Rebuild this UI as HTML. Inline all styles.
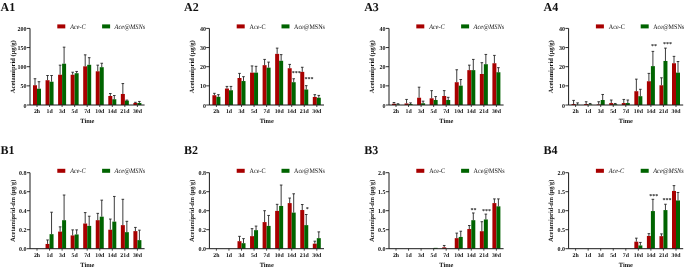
<!DOCTYPE html>
<html><head><meta charset="utf-8"><title>Chart</title>
<style>html,body{margin:0;padding:0;background:#fff;}body{width:685px;height:268px;overflow:hidden;}
svg{display:block;font-family:"Liberation Serif",serif;text-rendering:geometricPrecision;}</style></head>
<body>
<svg width="685" height="268" viewBox="0 0 685 268" font-family="'Liberation Serif', serif" fill="#111"><g><rect x="33" y="85.24" width="4" height="19.76" fill="#a80000"/><path d="M35 85.24V78.73M33.7 78.73h2.6" stroke="#262626" stroke-width="0.9" fill="none"/><rect x="37" y="88.72" width="4" height="16.28" fill="#006400"/><path d="M39 88.72V81.71M37.7 81.71h2.6" stroke="#262626" stroke-width="0.9" fill="none"/><rect x="45.55" y="80.22" width="4" height="24.78" fill="#a80000"/><path d="M47.55 80.22V75.51M46.25 75.51h2.6" stroke="#262626" stroke-width="0.9" fill="none"/><rect x="49.55" y="81.71" width="4" height="23.29" fill="#006400"/><path d="M51.55 81.71V75.51M50.25 75.51h2.6" stroke="#262626" stroke-width="0.9" fill="none"/><rect x="58.1" y="74.74" width="4" height="30.26" fill="#a80000"/><path d="M60.1 74.74V65.17M58.8 65.17h2.6" stroke="#262626" stroke-width="0.9" fill="none"/><rect x="62.1" y="63.71" width="4" height="41.29" fill="#006400"/><path d="M64.1 63.71V47.17M62.8 47.17h2.6" stroke="#262626" stroke-width="0.9" fill="none"/><rect x="70.65" y="74.74" width="4" height="30.26" fill="#a80000"/><path d="M72.65 74.74V72.22M71.35 72.22h2.6" stroke="#262626" stroke-width="0.9" fill="none"/><rect x="74.65" y="73.21" width="4" height="31.79" fill="#006400"/><path d="M76.65 73.21V71.45M75.35 71.45h2.6" stroke="#262626" stroke-width="0.9" fill="none"/><rect x="83.2" y="66.32" width="4" height="38.68" fill="#a80000"/><path d="M85.2 66.32V54.83M83.9 54.83h2.6" stroke="#262626" stroke-width="0.9" fill="none"/><rect x="87.2" y="64.78" width="4" height="40.21" fill="#006400"/><path d="M89.2 64.78V57.7M87.9 57.7h2.6" stroke="#262626" stroke-width="0.9" fill="none"/><rect x="95.75" y="71.3" width="4" height="33.7" fill="#a80000"/><path d="M97.75 71.3V65.17M96.45 65.17h2.6" stroke="#262626" stroke-width="0.9" fill="none"/><rect x="99.75" y="67.2" width="4" height="37.8" fill="#006400"/><path d="M101.75 67.2V63.25M100.45 63.25h2.6" stroke="#262626" stroke-width="0.9" fill="none"/><rect x="108.3" y="96" width="4" height="9" fill="#a80000"/><path d="M110.3 96V93.51M109 93.51h2.6" stroke="#262626" stroke-width="0.9" fill="none"/><rect x="112.3" y="99.25" width="4" height="5.74" fill="#006400"/><path d="M114.3 99.25V95.5M113 95.5h2.6" stroke="#262626" stroke-width="0.9" fill="none"/><rect x="120.85" y="93.97" width="4" height="11.03" fill="#a80000"/><path d="M122.85 93.97V83.55M121.55 83.55h2.6" stroke="#262626" stroke-width="0.9" fill="none"/><rect x="124.85" y="100.63" width="4" height="4.37" fill="#006400"/><path d="M126.85 100.63V100.1M125.55 100.1h2.6" stroke="#262626" stroke-width="0.9" fill="none"/><rect x="133.4" y="102.93" width="4" height="2.07" fill="#a80000"/><path d="M135.4 102.93V102.32M134.1 102.32h2.6" stroke="#262626" stroke-width="0.9" fill="none"/><rect x="137.4" y="102.93" width="4" height="2.07" fill="#006400"/><path d="M139.4 102.93V101.44M138.1 101.44h2.6" stroke="#262626" stroke-width="0.9" fill="none"/><path d="M30 28.4V105H144.6" stroke="#1a1a1a" stroke-width="1" fill="none"/><path d="M26.8 105H30" stroke="#1a1a1a" stroke-width="0.9"/><path d="M26.8 85.85H30" stroke="#1a1a1a" stroke-width="0.9"/><path d="M26.8 66.7H30" stroke="#1a1a1a" stroke-width="0.9"/><path d="M26.8 47.55H30" stroke="#1a1a1a" stroke-width="0.9"/><path d="M26.8 28.4H30" stroke="#1a1a1a" stroke-width="0.9"/><path d="M37 105V107" stroke="#1a1a1a" stroke-width="0.8"/><path d="M49.55 105V107" stroke="#1a1a1a" stroke-width="0.8"/><path d="M62.1 105V107" stroke="#1a1a1a" stroke-width="0.8"/><path d="M74.65 105V107" stroke="#1a1a1a" stroke-width="0.8"/><path d="M87.2 105V107" stroke="#1a1a1a" stroke-width="0.8"/><path d="M99.75 105V107" stroke="#1a1a1a" stroke-width="0.8"/><path d="M112.3 105V107" stroke="#1a1a1a" stroke-width="0.8"/><path d="M124.85 105V107" stroke="#1a1a1a" stroke-width="0.8"/><path d="M137.4 105V107" stroke="#1a1a1a" stroke-width="0.8"/><rect x="57.3" y="24.4" width="8" height="4" fill="#a80000"/><rect x="102.1" y="24.4" width="8" height="4" fill="#006400"/></g>
<g><rect x="212.4" y="95.23" width="4" height="9.77" fill="#a80000"/><path d="M214.4 95.23V93.32M213.1 93.32h2.6" stroke="#262626" stroke-width="0.9" fill="none"/><rect x="216.4" y="96.77" width="4" height="8.23" fill="#006400"/><path d="M218.4 96.77V94.66M217.1 94.66h2.6" stroke="#262626" stroke-width="0.9" fill="none"/><rect x="224.95" y="88.53" width="4" height="16.47" fill="#a80000"/><path d="M226.95 88.53V86.42M225.65 86.42h2.6" stroke="#262626" stroke-width="0.9" fill="none"/><rect x="228.95" y="90.25" width="4" height="14.75" fill="#006400"/><path d="M230.95 90.25V86.42M229.65 86.42h2.6" stroke="#262626" stroke-width="0.9" fill="none"/><rect x="237.5" y="78" width="4" height="27" fill="#a80000"/><path d="M239.5 78V73.4M238.2 73.4h2.6" stroke="#262626" stroke-width="0.9" fill="none"/><rect x="241.5" y="81.06" width="4" height="23.94" fill="#006400"/><path d="M243.5 81.06V76.66M242.2 76.66h2.6" stroke="#262626" stroke-width="0.9" fill="none"/><rect x="250.05" y="72.64" width="4" height="32.36" fill="#a80000"/><path d="M252.05 72.64V65.93M250.75 65.93h2.6" stroke="#262626" stroke-width="0.9" fill="none"/><rect x="254.05" y="72.64" width="4" height="32.36" fill="#006400"/><path d="M256.05 72.64V66.32M254.75 66.32h2.6" stroke="#262626" stroke-width="0.9" fill="none"/><rect x="262.6" y="65.17" width="4" height="39.83" fill="#a80000"/><path d="M264.6 65.17V59.42M263.3 59.42h2.6" stroke="#262626" stroke-width="0.9" fill="none"/><rect x="266.6" y="67.66" width="4" height="37.34" fill="#006400"/><path d="M268.6 67.66V62.1M267.3 62.1h2.6" stroke="#262626" stroke-width="0.9" fill="none"/><rect x="275.15" y="53.87" width="4" height="51.13" fill="#a80000"/><path d="M277.15 53.87V48.12M275.85 48.12h2.6" stroke="#262626" stroke-width="0.9" fill="none"/><rect x="279.15" y="60.76" width="4" height="44.24" fill="#006400"/><path d="M281.15 60.76V54.64M279.85 54.64h2.6" stroke="#262626" stroke-width="0.9" fill="none"/><rect x="287.7" y="68.23" width="4" height="36.77" fill="#a80000"/><path d="M289.7 68.23V64.4M288.4 64.4h2.6" stroke="#262626" stroke-width="0.9" fill="none"/><rect x="291.7" y="82.21" width="4" height="22.79" fill="#006400"/><path d="M293.7 82.21V78.76M292.4 78.76h2.6" stroke="#262626" stroke-width="0.9" fill="none"/><rect x="300.25" y="71.87" width="4" height="33.13" fill="#a80000"/><path d="M302.25 71.87V67.27M300.95 67.27h2.6" stroke="#262626" stroke-width="0.9" fill="none"/><rect x="304.25" y="89.49" width="4" height="15.51" fill="#006400"/><path d="M306.25 89.49V85.66M304.95 85.66h2.6" stroke="#262626" stroke-width="0.9" fill="none"/><rect x="312.8" y="96.96" width="4" height="8.04" fill="#a80000"/><path d="M314.8 96.96V94.66M313.5 94.66h2.6" stroke="#262626" stroke-width="0.9" fill="none"/><rect x="316.8" y="97.72" width="4" height="7.28" fill="#006400"/><path d="M318.8 97.72V95.42M317.5 95.42h2.6" stroke="#262626" stroke-width="0.9" fill="none"/><path d="M209.4 28.4V105H324" stroke="#1a1a1a" stroke-width="1" fill="none"/><path d="M206.2 105H209.4" stroke="#1a1a1a" stroke-width="0.9"/><path d="M206.2 85.85H209.4" stroke="#1a1a1a" stroke-width="0.9"/><path d="M206.2 66.7H209.4" stroke="#1a1a1a" stroke-width="0.9"/><path d="M206.2 47.55H209.4" stroke="#1a1a1a" stroke-width="0.9"/><path d="M206.2 28.4H209.4" stroke="#1a1a1a" stroke-width="0.9"/><path d="M216.4 105V107" stroke="#1a1a1a" stroke-width="0.8"/><path d="M228.95 105V107" stroke="#1a1a1a" stroke-width="0.8"/><path d="M241.5 105V107" stroke="#1a1a1a" stroke-width="0.8"/><path d="M254.05 105V107" stroke="#1a1a1a" stroke-width="0.8"/><path d="M266.6 105V107" stroke="#1a1a1a" stroke-width="0.8"/><path d="M279.15 105V107" stroke="#1a1a1a" stroke-width="0.8"/><path d="M291.7 105V107" stroke="#1a1a1a" stroke-width="0.8"/><path d="M304.25 105V107" stroke="#1a1a1a" stroke-width="0.8"/><path d="M316.8 105V107" stroke="#1a1a1a" stroke-width="0.8"/><rect x="236.7" y="24.4" width="8" height="4" fill="#a80000"/><rect x="281.5" y="24.4" width="8" height="4" fill="#006400"/></g>
<g><rect x="392" y="103.76" width="4" height="1.24" fill="#a80000"/><path d="M394 103.76V102.51M392.7 102.51h2.6" stroke="#262626" stroke-width="0.9" fill="none"/><rect x="396" y="104.5" width="4" height="0.5" fill="#006400"/><path d="M398 104.5V103.76M396.7 103.76h2.6" stroke="#262626" stroke-width="0.9" fill="none"/><rect x="404.55" y="103.47" width="4" height="1.53" fill="#a80000"/><path d="M406.55 103.47V99.45M405.25 99.45h2.6" stroke="#262626" stroke-width="0.9" fill="none"/><rect x="408.55" y="104.04" width="4" height="0.96" fill="#006400"/><path d="M410.55 104.04V102.89M409.25 102.89h2.6" stroke="#262626" stroke-width="0.9" fill="none"/><rect x="417.1" y="97.72" width="4" height="7.28" fill="#a80000"/><path d="M419.1 97.72V87.19M417.8 87.19h2.6" stroke="#262626" stroke-width="0.9" fill="none"/><rect x="421.1" y="103.28" width="4" height="1.72" fill="#006400"/><path d="M423.1 103.28V101.17M421.8 101.17h2.6" stroke="#262626" stroke-width="0.9" fill="none"/><rect x="429.65" y="98.3" width="4" height="6.7" fill="#a80000"/><path d="M431.65 98.3V90.64M430.35 90.64h2.6" stroke="#262626" stroke-width="0.9" fill="none"/><rect x="433.65" y="100.02" width="4" height="4.98" fill="#006400"/><path d="M435.65 100.02V96.57M434.35 96.57h2.6" stroke="#262626" stroke-width="0.9" fill="none"/><rect x="442.2" y="96" width="4" height="9" fill="#a80000"/><path d="M444.2 96V90.64M442.9 90.64h2.6" stroke="#262626" stroke-width="0.9" fill="none"/><rect x="446.2" y="100.02" width="4" height="4.98" fill="#006400"/><path d="M448.2 100.02V97.34M446.9 97.34h2.6" stroke="#262626" stroke-width="0.9" fill="none"/><rect x="454.75" y="82.21" width="4" height="22.79" fill="#a80000"/><path d="M456.75 82.21V69.76M455.45 69.76h2.6" stroke="#262626" stroke-width="0.9" fill="none"/><rect x="458.75" y="85.66" width="4" height="19.34" fill="#006400"/><path d="M460.75 85.66V79.53M459.45 79.53h2.6" stroke="#262626" stroke-width="0.9" fill="none"/><rect x="467.3" y="70.15" width="4" height="34.85" fill="#a80000"/><path d="M469.3 70.15V65.17M468 65.17h2.6" stroke="#262626" stroke-width="0.9" fill="none"/><rect x="471.3" y="70.15" width="4" height="34.85" fill="#006400"/><path d="M473.3 70.15V59.42M472 59.42h2.6" stroke="#262626" stroke-width="0.9" fill="none"/><rect x="479.85" y="73.98" width="4" height="31.02" fill="#a80000"/><path d="M481.85 73.98V62.68M480.55 62.68h2.6" stroke="#262626" stroke-width="0.9" fill="none"/><rect x="483.85" y="64.21" width="4" height="40.79" fill="#006400"/><path d="M485.85 64.21V54.44M484.55 54.44h2.6" stroke="#262626" stroke-width="0.9" fill="none"/><rect x="492.4" y="63.25" width="4" height="41.75" fill="#a80000"/><path d="M494.4 63.25V55.4M493.1 55.4h2.6" stroke="#262626" stroke-width="0.9" fill="none"/><rect x="496.4" y="72.25" width="4" height="32.75" fill="#006400"/><path d="M498.4 72.25V67.66M497.1 67.66h2.6" stroke="#262626" stroke-width="0.9" fill="none"/><path d="M389 28.4V105H503.6" stroke="#1a1a1a" stroke-width="1" fill="none"/><path d="M385.8 105H389" stroke="#1a1a1a" stroke-width="0.9"/><path d="M385.8 85.85H389" stroke="#1a1a1a" stroke-width="0.9"/><path d="M385.8 66.7H389" stroke="#1a1a1a" stroke-width="0.9"/><path d="M385.8 47.55H389" stroke="#1a1a1a" stroke-width="0.9"/><path d="M385.8 28.4H389" stroke="#1a1a1a" stroke-width="0.9"/><path d="M396 105V107" stroke="#1a1a1a" stroke-width="0.8"/><path d="M408.55 105V107" stroke="#1a1a1a" stroke-width="0.8"/><path d="M421.1 105V107" stroke="#1a1a1a" stroke-width="0.8"/><path d="M433.65 105V107" stroke="#1a1a1a" stroke-width="0.8"/><path d="M446.2 105V107" stroke="#1a1a1a" stroke-width="0.8"/><path d="M458.75 105V107" stroke="#1a1a1a" stroke-width="0.8"/><path d="M471.3 105V107" stroke="#1a1a1a" stroke-width="0.8"/><path d="M483.85 105V107" stroke="#1a1a1a" stroke-width="0.8"/><path d="M496.4 105V107" stroke="#1a1a1a" stroke-width="0.8"/><rect x="416.3" y="24.4" width="8" height="4" fill="#a80000"/><rect x="461.1" y="24.4" width="8" height="4" fill="#006400"/></g>
<g><rect x="571.6" y="104.04" width="4" height="0.96" fill="#a80000"/><path d="M573.6 104.04V100.4M572.3 100.4h2.6" stroke="#262626" stroke-width="0.9" fill="none"/><rect x="575.6" y="104.81" width="4" height="0.19" fill="#006400"/><path d="M577.6 104.81V102.89M576.3 102.89h2.6" stroke="#262626" stroke-width="0.9" fill="none"/><rect x="584.15" y="104.04" width="4" height="0.96" fill="#a80000"/><path d="M586.15 104.04V101.74M584.85 101.74h2.6" stroke="#262626" stroke-width="0.9" fill="none"/><rect x="588.15" y="104.43" width="4" height="0.57" fill="#006400"/><path d="M590.15 104.43V103.47M588.85 103.47h2.6" stroke="#262626" stroke-width="0.9" fill="none"/><rect x="596.7" y="104.43" width="4" height="0.57" fill="#a80000"/><path d="M598.7 104.43V101.74M597.4 101.74h2.6" stroke="#262626" stroke-width="0.9" fill="none"/><rect x="600.7" y="100.02" width="4" height="4.98" fill="#006400"/><path d="M602.7 100.02V94.47M601.4 94.47h2.6" stroke="#262626" stroke-width="0.9" fill="none"/><rect x="609.25" y="103.08" width="4" height="1.91" fill="#a80000"/><path d="M611.25 103.08V100.02M609.95 100.02h2.6" stroke="#262626" stroke-width="0.9" fill="none"/><rect x="613.25" y="104.23" width="4" height="0.77" fill="#006400"/><path d="M615.25 104.23V103.47M613.95 103.47h2.6" stroke="#262626" stroke-width="0.9" fill="none"/><rect x="621.8" y="103.08" width="4" height="1.91" fill="#a80000"/><path d="M623.8 103.08V99.45M622.5 99.45h2.6" stroke="#262626" stroke-width="0.9" fill="none"/><rect x="625.8" y="103.08" width="4" height="1.91" fill="#006400"/><path d="M627.8 103.08V100.02M626.5 100.02h2.6" stroke="#262626" stroke-width="0.9" fill="none"/><rect x="634.35" y="91.21" width="4" height="13.79" fill="#a80000"/><path d="M636.35 91.21V79.15M635.05 79.15h2.6" stroke="#262626" stroke-width="0.9" fill="none"/><rect x="638.35" y="96.19" width="4" height="8.81" fill="#006400"/><path d="M640.35 96.19V89.3M639.05 89.3h2.6" stroke="#262626" stroke-width="0.9" fill="none"/><rect x="646.9" y="81.25" width="4" height="23.75" fill="#a80000"/><path d="M648.9 81.25V73.4M647.6 73.4h2.6" stroke="#262626" stroke-width="0.9" fill="none"/><rect x="650.9" y="66.13" width="4" height="38.87" fill="#006400"/><path d="M652.9 66.13V51.38M651.6 51.38h2.6" stroke="#262626" stroke-width="0.9" fill="none"/><rect x="659.45" y="85.28" width="4" height="19.72" fill="#a80000"/><path d="M661.45 85.28V77.81M660.15 77.81h2.6" stroke="#262626" stroke-width="0.9" fill="none"/><rect x="663.45" y="60.96" width="4" height="44.04" fill="#006400"/><path d="M665.45 60.96V48.12M664.15 48.12h2.6" stroke="#262626" stroke-width="0.9" fill="none"/><rect x="672" y="63.25" width="4" height="41.75" fill="#a80000"/><path d="M674 63.25V56.36M672.7 56.36h2.6" stroke="#262626" stroke-width="0.9" fill="none"/><rect x="676" y="72.64" width="4" height="32.36" fill="#006400"/><path d="M678 72.64V61.53M676.7 61.53h2.6" stroke="#262626" stroke-width="0.9" fill="none"/><path d="M568.6 28.4V105H683.2" stroke="#1a1a1a" stroke-width="1" fill="none"/><path d="M565.4 105H568.6" stroke="#1a1a1a" stroke-width="0.9"/><path d="M565.4 85.85H568.6" stroke="#1a1a1a" stroke-width="0.9"/><path d="M565.4 66.7H568.6" stroke="#1a1a1a" stroke-width="0.9"/><path d="M565.4 47.55H568.6" stroke="#1a1a1a" stroke-width="0.9"/><path d="M565.4 28.4H568.6" stroke="#1a1a1a" stroke-width="0.9"/><path d="M575.6 105V107" stroke="#1a1a1a" stroke-width="0.8"/><path d="M588.15 105V107" stroke="#1a1a1a" stroke-width="0.8"/><path d="M600.7 105V107" stroke="#1a1a1a" stroke-width="0.8"/><path d="M613.25 105V107" stroke="#1a1a1a" stroke-width="0.8"/><path d="M625.8 105V107" stroke="#1a1a1a" stroke-width="0.8"/><path d="M638.35 105V107" stroke="#1a1a1a" stroke-width="0.8"/><path d="M650.9 105V107" stroke="#1a1a1a" stroke-width="0.8"/><path d="M663.45 105V107" stroke="#1a1a1a" stroke-width="0.8"/><path d="M676 105V107" stroke="#1a1a1a" stroke-width="0.8"/><rect x="595.9" y="24.4" width="8" height="4" fill="#a80000"/><rect x="640.7" y="24.4" width="8" height="4" fill="#006400"/></g>
<g><rect x="45.55" y="243.95" width="4" height="4.75" fill="#a80000"/><path d="M47.55 243.95V239.96M46.25 239.96h2.6" stroke="#262626" stroke-width="0.9" fill="none"/><rect x="49.55" y="234.16" width="4" height="14.54" fill="#006400"/><path d="M51.55 234.16V212.22M50.25 212.22h2.6" stroke="#262626" stroke-width="0.9" fill="none"/><rect x="58.1" y="231.6" width="4" height="17.1" fill="#a80000"/><path d="M60.1 231.6V226.85M58.8 226.85h2.6" stroke="#262626" stroke-width="0.9" fill="none"/><rect x="62.1" y="220.2" width="4" height="28.5" fill="#006400"/><path d="M64.1 220.2V195.02M62.8 195.02h2.6" stroke="#262626" stroke-width="0.9" fill="none"/><rect x="70.65" y="235.4" width="4" height="13.3" fill="#a80000"/><path d="M72.65 235.4V229.89M71.35 229.89h2.6" stroke="#262626" stroke-width="0.9" fill="none"/><rect x="74.65" y="234.45" width="4" height="14.25" fill="#006400"/><path d="M76.65 234.45V229.89M75.35 229.89h2.6" stroke="#262626" stroke-width="0.9" fill="none"/><rect x="83.2" y="223.52" width="4" height="25.18" fill="#a80000"/><path d="M85.2 223.52V212.6M83.9 212.6h2.6" stroke="#262626" stroke-width="0.9" fill="none"/><rect x="87.2" y="225.9" width="4" height="22.8" fill="#006400"/><path d="M89.2 225.9V216.21M87.9 216.21h2.6" stroke="#262626" stroke-width="0.9" fill="none"/><rect x="95.75" y="220.2" width="4" height="28.5" fill="#a80000"/><path d="M97.75 220.2V213.36M96.45 213.36h2.6" stroke="#262626" stroke-width="0.9" fill="none"/><rect x="99.75" y="216.69" width="4" height="32.02" fill="#006400"/><path d="M101.75 216.69V200.15M100.45 200.15h2.6" stroke="#262626" stroke-width="0.9" fill="none"/><rect x="108.3" y="229.7" width="4" height="19" fill="#a80000"/><path d="M110.3 229.7V219.06M109 219.06h2.6" stroke="#262626" stroke-width="0.9" fill="none"/><rect x="112.3" y="221.62" width="4" height="27.07" fill="#006400"/><path d="M114.3 221.62V196.45M113 196.45h2.6" stroke="#262626" stroke-width="0.9" fill="none"/><rect x="120.85" y="225.14" width="4" height="23.56" fill="#a80000"/><path d="M122.85 225.14V199.3M121.55 199.3h2.6" stroke="#262626" stroke-width="0.9" fill="none"/><rect x="124.85" y="232.17" width="4" height="16.53" fill="#006400"/><path d="M126.85 232.17V221.34M125.55 221.34h2.6" stroke="#262626" stroke-width="0.9" fill="none"/><rect x="133.4" y="231.12" width="4" height="17.57" fill="#a80000"/><path d="M135.4 231.12V227.42M134.1 227.42h2.6" stroke="#262626" stroke-width="0.9" fill="none"/><rect x="137.4" y="240.15" width="4" height="8.55" fill="#006400"/><path d="M139.4 240.15V230.17M138.1 230.17h2.6" stroke="#262626" stroke-width="0.9" fill="none"/><path d="M30 172.7V248.7H144.6" stroke="#1a1a1a" stroke-width="1" fill="none"/><path d="M26.8 248.7H30" stroke="#1a1a1a" stroke-width="0.9"/><path d="M26.8 229.7H30" stroke="#1a1a1a" stroke-width="0.9"/><path d="M26.8 210.7H30" stroke="#1a1a1a" stroke-width="0.9"/><path d="M26.8 191.7H30" stroke="#1a1a1a" stroke-width="0.9"/><path d="M26.8 172.7H30" stroke="#1a1a1a" stroke-width="0.9"/><path d="M37 248.7V250.7" stroke="#1a1a1a" stroke-width="0.8"/><path d="M49.55 248.7V250.7" stroke="#1a1a1a" stroke-width="0.8"/><path d="M62.1 248.7V250.7" stroke="#1a1a1a" stroke-width="0.8"/><path d="M74.65 248.7V250.7" stroke="#1a1a1a" stroke-width="0.8"/><path d="M87.2 248.7V250.7" stroke="#1a1a1a" stroke-width="0.8"/><path d="M99.75 248.7V250.7" stroke="#1a1a1a" stroke-width="0.8"/><path d="M112.3 248.7V250.7" stroke="#1a1a1a" stroke-width="0.8"/><path d="M124.85 248.7V250.7" stroke="#1a1a1a" stroke-width="0.8"/><path d="M137.4 248.7V250.7" stroke="#1a1a1a" stroke-width="0.8"/><rect x="57.3" y="168.8" width="8" height="4" fill="#a80000"/><rect x="102.1" y="168.8" width="8" height="4" fill="#006400"/></g>
<g><rect x="237.5" y="241.19" width="4" height="7.5" fill="#a80000"/><path d="M239.5 241.19V236.35M238.2 236.35h2.6" stroke="#262626" stroke-width="0.9" fill="none"/><rect x="241.5" y="243.19" width="4" height="5.51" fill="#006400"/><path d="M243.5 243.19V238.63M242.2 238.63h2.6" stroke="#262626" stroke-width="0.9" fill="none"/><rect x="250.05" y="236.16" width="4" height="12.54" fill="#a80000"/><path d="M252.05 236.16V228.66M250.75 228.66h2.6" stroke="#262626" stroke-width="0.9" fill="none"/><rect x="254.05" y="230.17" width="4" height="18.53" fill="#006400"/><path d="M256.05 230.17V226.09M254.75 226.09h2.6" stroke="#262626" stroke-width="0.9" fill="none"/><rect x="262.6" y="222.1" width="4" height="26.6" fill="#a80000"/><path d="M264.6 222.1V210.7M263.3 210.7h2.6" stroke="#262626" stroke-width="0.9" fill="none"/><rect x="266.6" y="225.9" width="4" height="22.8" fill="#006400"/><path d="M268.6 225.9V215.45M267.3 215.45h2.6" stroke="#262626" stroke-width="0.9" fill="none"/><rect x="275.15" y="210.89" width="4" height="37.81" fill="#a80000"/><path d="M277.15 210.89V204.33M275.85 204.33h2.6" stroke="#262626" stroke-width="0.9" fill="none"/><rect x="279.15" y="205.95" width="4" height="42.75" fill="#006400"/><path d="M281.15 205.95V185.05M279.85 185.05h2.6" stroke="#262626" stroke-width="0.9" fill="none"/><rect x="287.7" y="203.1" width="4" height="45.6" fill="#a80000"/><path d="M289.7 203.1V198.06M288.4 198.06h2.6" stroke="#262626" stroke-width="0.9" fill="none"/><rect x="291.7" y="212.6" width="4" height="36.1" fill="#006400"/><path d="M293.7 212.6V193.79M292.4 193.79h2.6" stroke="#262626" stroke-width="0.9" fill="none"/><rect x="300.25" y="210.03" width="4" height="38.66" fill="#a80000"/><path d="M302.25 210.03V204.52M300.95 204.52h2.6" stroke="#262626" stroke-width="0.9" fill="none"/><rect x="304.25" y="225.14" width="4" height="23.56" fill="#006400"/><path d="M306.25 225.14V214.5M304.95 214.5h2.6" stroke="#262626" stroke-width="0.9" fill="none"/><rect x="312.8" y="243.66" width="4" height="5.04" fill="#a80000"/><path d="M314.8 243.66V241.19M313.5 241.19h2.6" stroke="#262626" stroke-width="0.9" fill="none"/><rect x="316.8" y="238.16" width="4" height="10.54" fill="#006400"/><path d="M318.8 238.16V231.88M317.5 231.88h2.6" stroke="#262626" stroke-width="0.9" fill="none"/><path d="M209.4 172.7V248.7H324" stroke="#1a1a1a" stroke-width="1" fill="none"/><path d="M206.2 248.7H209.4" stroke="#1a1a1a" stroke-width="0.9"/><path d="M206.2 229.7H209.4" stroke="#1a1a1a" stroke-width="0.9"/><path d="M206.2 210.7H209.4" stroke="#1a1a1a" stroke-width="0.9"/><path d="M206.2 191.7H209.4" stroke="#1a1a1a" stroke-width="0.9"/><path d="M206.2 172.7H209.4" stroke="#1a1a1a" stroke-width="0.9"/><path d="M216.4 248.7V250.7" stroke="#1a1a1a" stroke-width="0.8"/><path d="M228.95 248.7V250.7" stroke="#1a1a1a" stroke-width="0.8"/><path d="M241.5 248.7V250.7" stroke="#1a1a1a" stroke-width="0.8"/><path d="M254.05 248.7V250.7" stroke="#1a1a1a" stroke-width="0.8"/><path d="M266.6 248.7V250.7" stroke="#1a1a1a" stroke-width="0.8"/><path d="M279.15 248.7V250.7" stroke="#1a1a1a" stroke-width="0.8"/><path d="M291.7 248.7V250.7" stroke="#1a1a1a" stroke-width="0.8"/><path d="M304.25 248.7V250.7" stroke="#1a1a1a" stroke-width="0.8"/><path d="M316.8 248.7V250.7" stroke="#1a1a1a" stroke-width="0.8"/><rect x="236.7" y="168.8" width="8" height="4" fill="#a80000"/><rect x="281.5" y="168.8" width="8" height="4" fill="#006400"/></g>
<g><rect x="433.65" y="247.86" width="4" height="0.84" fill="#006400"/><rect x="442.2" y="247.37" width="4" height="1.33" fill="#a80000"/><path d="M444.2 247.37V245.47M442.9 245.47h2.6" stroke="#262626" stroke-width="0.9" fill="none"/><rect x="454.75" y="238.17" width="4" height="10.53" fill="#a80000"/><path d="M456.75 238.17V233.12M455.45 233.12h2.6" stroke="#262626" stroke-width="0.9" fill="none"/><rect x="458.75" y="236.92" width="4" height="11.78" fill="#006400"/><path d="M460.75 236.92V231.22M459.45 231.22h2.6" stroke="#262626" stroke-width="0.9" fill="none"/><rect x="467.3" y="229.05" width="4" height="19.65" fill="#a80000"/><path d="M469.3 229.05V225.52M468 225.52h2.6" stroke="#262626" stroke-width="0.9" fill="none"/><rect x="471.3" y="220.2" width="4" height="28.5" fill="#006400"/><path d="M473.3 220.2V212.98M472 212.98h2.6" stroke="#262626" stroke-width="0.9" fill="none"/><rect x="479.85" y="231.22" width="4" height="17.48" fill="#a80000"/><path d="M481.85 231.22V221.72M480.55 221.72h2.6" stroke="#262626" stroke-width="0.9" fill="none"/><rect x="483.85" y="219.44" width="4" height="29.26" fill="#006400"/><path d="M485.85 219.44V214.12M484.55 214.12h2.6" stroke="#262626" stroke-width="0.9" fill="none"/><rect x="492.4" y="203.1" width="4" height="45.6" fill="#a80000"/><path d="M494.4 203.1V198.92M493.1 198.92h2.6" stroke="#262626" stroke-width="0.9" fill="none"/><rect x="496.4" y="206.33" width="4" height="42.37" fill="#006400"/><path d="M498.4 206.33V198.92M497.1 198.92h2.6" stroke="#262626" stroke-width="0.9" fill="none"/><path d="M389 172.7V248.7H503.6" stroke="#1a1a1a" stroke-width="1" fill="none"/><path d="M385.8 248.7H389" stroke="#1a1a1a" stroke-width="0.9"/><path d="M385.8 229.7H389" stroke="#1a1a1a" stroke-width="0.9"/><path d="M385.8 210.7H389" stroke="#1a1a1a" stroke-width="0.9"/><path d="M385.8 191.7H389" stroke="#1a1a1a" stroke-width="0.9"/><path d="M385.8 172.7H389" stroke="#1a1a1a" stroke-width="0.9"/><path d="M396 248.7V250.7" stroke="#1a1a1a" stroke-width="0.8"/><path d="M408.55 248.7V250.7" stroke="#1a1a1a" stroke-width="0.8"/><path d="M421.1 248.7V250.7" stroke="#1a1a1a" stroke-width="0.8"/><path d="M433.65 248.7V250.7" stroke="#1a1a1a" stroke-width="0.8"/><path d="M446.2 248.7V250.7" stroke="#1a1a1a" stroke-width="0.8"/><path d="M458.75 248.7V250.7" stroke="#1a1a1a" stroke-width="0.8"/><path d="M471.3 248.7V250.7" stroke="#1a1a1a" stroke-width="0.8"/><path d="M483.85 248.7V250.7" stroke="#1a1a1a" stroke-width="0.8"/><path d="M496.4 248.7V250.7" stroke="#1a1a1a" stroke-width="0.8"/><rect x="416.3" y="168.8" width="8" height="4" fill="#a80000"/><rect x="461.1" y="168.8" width="8" height="4" fill="#006400"/></g>
<g><rect x="634.35" y="241.67" width="4" height="7.03" fill="#a80000"/><path d="M636.35 241.67V238.17M635.05 238.17h2.6" stroke="#262626" stroke-width="0.9" fill="none"/><rect x="638.35" y="245.43" width="4" height="3.27" fill="#006400"/><path d="M640.35 245.43V242.43M639.05 242.43h2.6" stroke="#262626" stroke-width="0.9" fill="none"/><rect x="646.9" y="235.93" width="4" height="12.77" fill="#a80000"/><path d="M648.9 235.93V233.65M647.6 233.65h2.6" stroke="#262626" stroke-width="0.9" fill="none"/><rect x="650.9" y="211.08" width="4" height="37.62" fill="#006400"/><path d="M652.9 211.08V199.3M651.6 199.3h2.6" stroke="#262626" stroke-width="0.9" fill="none"/><rect x="659.45" y="236.16" width="4" height="12.54" fill="#a80000"/><path d="M661.45 236.16V233.88M660.15 233.88h2.6" stroke="#262626" stroke-width="0.9" fill="none"/><rect x="663.45" y="210.09" width="4" height="38.61" fill="#006400"/><path d="M665.45 210.09V204.24M664.15 204.24h2.6" stroke="#262626" stroke-width="0.9" fill="none"/><rect x="672" y="190.94" width="4" height="57.76" fill="#a80000"/><path d="M674 190.94V185.62M672.7 185.62h2.6" stroke="#262626" stroke-width="0.9" fill="none"/><rect x="676" y="200.44" width="4" height="48.26" fill="#006400"/><path d="M678 200.44V192.46M676.7 192.46h2.6" stroke="#262626" stroke-width="0.9" fill="none"/><path d="M568.6 172.7V248.7H683.2" stroke="#1a1a1a" stroke-width="1" fill="none"/><path d="M565.4 248.7H568.6" stroke="#1a1a1a" stroke-width="0.9"/><path d="M565.4 229.7H568.6" stroke="#1a1a1a" stroke-width="0.9"/><path d="M565.4 210.7H568.6" stroke="#1a1a1a" stroke-width="0.9"/><path d="M565.4 191.7H568.6" stroke="#1a1a1a" stroke-width="0.9"/><path d="M565.4 172.7H568.6" stroke="#1a1a1a" stroke-width="0.9"/><path d="M575.6 248.7V250.7" stroke="#1a1a1a" stroke-width="0.8"/><path d="M588.15 248.7V250.7" stroke="#1a1a1a" stroke-width="0.8"/><path d="M600.7 248.7V250.7" stroke="#1a1a1a" stroke-width="0.8"/><path d="M613.25 248.7V250.7" stroke="#1a1a1a" stroke-width="0.8"/><path d="M625.8 248.7V250.7" stroke="#1a1a1a" stroke-width="0.8"/><path d="M638.35 248.7V250.7" stroke="#1a1a1a" stroke-width="0.8"/><path d="M650.9 248.7V250.7" stroke="#1a1a1a" stroke-width="0.8"/><path d="M663.45 248.7V250.7" stroke="#1a1a1a" stroke-width="0.8"/><path d="M676 248.7V250.7" stroke="#1a1a1a" stroke-width="0.8"/><rect x="595.9" y="168.8" width="8" height="4" fill="#a80000"/><rect x="640.7" y="168.8" width="8" height="4" fill="#006400"/></g><g style="filter:grayscale(1)"><text x="0.6" y="11" font-size="12.0" font-weight="bold">A1</text><text x="26.5" y="107.6" font-size="6.0" font-weight="bold" text-anchor="end">0</text><text x="26.5" y="88.45" font-size="6.0" font-weight="bold" text-anchor="end">50</text><text x="26.5" y="69.3" font-size="6.0" font-weight="bold" text-anchor="end">100</text><text x="26.5" y="50.15" font-size="6.0" font-weight="bold" text-anchor="end">150</text><text x="26.5" y="31" font-size="6.0" font-weight="bold" text-anchor="end">200</text><text x="37" y="113" font-size="5.8" font-weight="bold" text-anchor="middle">2h</text><text x="49.55" y="113" font-size="5.8" font-weight="bold" text-anchor="middle">1d</text><text x="62.1" y="113" font-size="5.8" font-weight="bold" text-anchor="middle">3d</text><text x="74.65" y="113" font-size="5.8" font-weight="bold" text-anchor="middle">5d</text><text x="87.2" y="113" font-size="5.8" font-weight="bold" text-anchor="middle">7d</text><text x="99.75" y="113" font-size="5.8" font-weight="bold" text-anchor="middle">10d</text><text x="112.3" y="113" font-size="5.8" font-weight="bold" text-anchor="middle">14d</text><text x="124.85" y="113" font-size="5.8" font-weight="bold" text-anchor="middle">21d</text><text x="137.4" y="113" font-size="5.8" font-weight="bold" text-anchor="middle">30d</text><text x="87.3" y="122.8" font-size="6.4" font-weight="bold" text-anchor="middle">Time</text><text transform="translate(14.6 66.7) rotate(-90)" x="-26.5" font-size="6.55" font-weight="bold" textLength="53" lengthAdjust="spacingAndGlyphs">Acetamiprid (μg/g)</text><text x="70.2" y="28.5" font-size="6.9" font-style="italic" textLength="15.4" lengthAdjust="spacingAndGlyphs">Ace-C</text><text x="114.6" y="28.5" font-size="6.9" font-style="italic" textLength="30.6" lengthAdjust="spacingAndGlyphs">Ace@MSNs</text>
<text x="184" y="11" font-size="12.0" font-weight="bold">A2</text><text x="205.9" y="107.6" font-size="6.0" font-weight="bold" text-anchor="end">0</text><text x="205.9" y="88.45" font-size="6.0" font-weight="bold" text-anchor="end">10</text><text x="205.9" y="69.3" font-size="6.0" font-weight="bold" text-anchor="end">20</text><text x="205.9" y="50.15" font-size="6.0" font-weight="bold" text-anchor="end">30</text><text x="205.9" y="31" font-size="6.0" font-weight="bold" text-anchor="end">40</text><text x="216.4" y="113" font-size="5.8" font-weight="bold" text-anchor="middle">2h</text><text x="228.95" y="113" font-size="5.8" font-weight="bold" text-anchor="middle">1d</text><text x="241.5" y="113" font-size="5.8" font-weight="bold" text-anchor="middle">3d</text><text x="254.05" y="113" font-size="5.8" font-weight="bold" text-anchor="middle">5d</text><text x="266.6" y="113" font-size="5.8" font-weight="bold" text-anchor="middle">7d</text><text x="279.15" y="113" font-size="5.8" font-weight="bold" text-anchor="middle">10d</text><text x="291.7" y="113" font-size="5.8" font-weight="bold" text-anchor="middle">14d</text><text x="304.25" y="113" font-size="5.8" font-weight="bold" text-anchor="middle">21d</text><text x="316.8" y="113" font-size="5.8" font-weight="bold" text-anchor="middle">30d</text><text x="266.7" y="122.8" font-size="6.4" font-weight="bold" text-anchor="middle">Time</text><text transform="translate(194 66.7) rotate(-90)" x="-26.5" font-size="6.55" font-weight="bold" textLength="53" lengthAdjust="spacingAndGlyphs">Acetamiprid (μg/g)</text><text x="249.6" y="28.5" font-size="6.9" textLength="16.0" lengthAdjust="spacingAndGlyphs">Ace-C</text><text x="294" y="28.5" font-size="6.9" textLength="31.0" lengthAdjust="spacingAndGlyphs">Ace@MSNs</text><text x="296.2" y="75.1" font-size="6.0" font-weight="bold" text-anchor="middle">***</text><text x="309" y="81.4" font-size="6.0" font-weight="bold" text-anchor="middle">***</text>
<text x="364.2" y="11" font-size="12.0" font-weight="bold">A3</text><text x="385.5" y="107.6" font-size="6.0" font-weight="bold" text-anchor="end">0</text><text x="385.5" y="88.45" font-size="6.0" font-weight="bold" text-anchor="end">10</text><text x="385.5" y="69.3" font-size="6.0" font-weight="bold" text-anchor="end">20</text><text x="385.5" y="50.15" font-size="6.0" font-weight="bold" text-anchor="end">30</text><text x="385.5" y="31" font-size="6.0" font-weight="bold" text-anchor="end">40</text><text x="396" y="113" font-size="5.8" font-weight="bold" text-anchor="middle">2h</text><text x="408.55" y="113" font-size="5.8" font-weight="bold" text-anchor="middle">1d</text><text x="421.1" y="113" font-size="5.8" font-weight="bold" text-anchor="middle">3d</text><text x="433.65" y="113" font-size="5.8" font-weight="bold" text-anchor="middle">5d</text><text x="446.2" y="113" font-size="5.8" font-weight="bold" text-anchor="middle">7d</text><text x="458.75" y="113" font-size="5.8" font-weight="bold" text-anchor="middle">10d</text><text x="471.3" y="113" font-size="5.8" font-weight="bold" text-anchor="middle">14d</text><text x="483.85" y="113" font-size="5.8" font-weight="bold" text-anchor="middle">21d</text><text x="496.4" y="113" font-size="5.8" font-weight="bold" text-anchor="middle">30d</text><text x="446.3" y="122.8" font-size="6.4" font-weight="bold" text-anchor="middle">Time</text><text transform="translate(373.6 66.7) rotate(-90)" x="-26.5" font-size="6.55" font-weight="bold" textLength="53" lengthAdjust="spacingAndGlyphs">Acetamiprid (μg/g)</text><text x="429.2" y="28.5" font-size="6.9" font-style="italic" textLength="15.4" lengthAdjust="spacingAndGlyphs">Ace-C</text><text x="473.6" y="28.5" font-size="6.9" font-style="italic" textLength="30.6" lengthAdjust="spacingAndGlyphs">Ace@MSNs</text>
<text x="543.6" y="11" font-size="12.0" font-weight="bold">A4</text><text x="565.1" y="107.6" font-size="6.0" font-weight="bold" text-anchor="end">0</text><text x="565.1" y="88.45" font-size="6.0" font-weight="bold" text-anchor="end">10</text><text x="565.1" y="69.3" font-size="6.0" font-weight="bold" text-anchor="end">20</text><text x="565.1" y="50.15" font-size="6.0" font-weight="bold" text-anchor="end">30</text><text x="565.1" y="31" font-size="6.0" font-weight="bold" text-anchor="end">40</text><text x="575.6" y="113" font-size="5.8" font-weight="bold" text-anchor="middle">2h</text><text x="588.15" y="113" font-size="5.8" font-weight="bold" text-anchor="middle">1d</text><text x="600.7" y="113" font-size="5.8" font-weight="bold" text-anchor="middle">3d</text><text x="613.25" y="113" font-size="5.8" font-weight="bold" text-anchor="middle">5d</text><text x="625.8" y="113" font-size="5.8" font-weight="bold" text-anchor="middle">7d</text><text x="638.35" y="113" font-size="5.8" font-weight="bold" text-anchor="middle">10d</text><text x="650.9" y="113" font-size="5.8" font-weight="bold" text-anchor="middle">14d</text><text x="663.45" y="113" font-size="5.8" font-weight="bold" text-anchor="middle">21d</text><text x="676" y="113" font-size="5.8" font-weight="bold" text-anchor="middle">30d</text><text x="625.9" y="122.8" font-size="6.4" font-weight="bold" text-anchor="middle">Time</text><text transform="translate(553.2 66.7) rotate(-90)" x="-26.5" font-size="6.55" font-weight="bold" textLength="53" lengthAdjust="spacingAndGlyphs">Acetamiprid (μg/g)</text><text x="608.8" y="28.5" font-size="6.9" textLength="16.0" lengthAdjust="spacingAndGlyphs">Ace-C</text><text x="653.2" y="28.5" font-size="6.9" textLength="31.0" lengthAdjust="spacingAndGlyphs">Ace@MSNs</text><text x="654" y="47.9" font-size="6.0" font-weight="bold" text-anchor="middle">**</text><text x="667.5" y="46.1" font-size="6.0" font-weight="bold" text-anchor="middle">***</text>
<text x="0.6" y="154" font-size="12.0" font-weight="bold">B1</text><text x="26.5" y="251.3" font-size="6.0" font-weight="bold" text-anchor="end">0.0</text><text x="26.5" y="232.3" font-size="6.0" font-weight="bold" text-anchor="end">0.2</text><text x="26.5" y="213.3" font-size="6.0" font-weight="bold" text-anchor="end">0.4</text><text x="26.5" y="194.3" font-size="6.0" font-weight="bold" text-anchor="end">0.6</text><text x="26.5" y="175.3" font-size="6.0" font-weight="bold" text-anchor="end">0.8</text><text x="37" y="257" font-size="5.8" font-weight="bold" text-anchor="middle">2h</text><text x="49.55" y="257" font-size="5.8" font-weight="bold" text-anchor="middle">1d</text><text x="62.1" y="257" font-size="5.8" font-weight="bold" text-anchor="middle">3d</text><text x="74.65" y="257" font-size="5.8" font-weight="bold" text-anchor="middle">5d</text><text x="87.2" y="257" font-size="5.8" font-weight="bold" text-anchor="middle">7d</text><text x="99.75" y="257" font-size="5.8" font-weight="bold" text-anchor="middle">10d</text><text x="112.3" y="257" font-size="5.8" font-weight="bold" text-anchor="middle">14d</text><text x="124.85" y="257" font-size="5.8" font-weight="bold" text-anchor="middle">21d</text><text x="137.4" y="257" font-size="5.8" font-weight="bold" text-anchor="middle">30d</text><text x="87.3" y="267.2" font-size="6.4" font-weight="bold" text-anchor="middle">Time</text><text transform="translate(14.6 210.7) rotate(-90)" x="-31" font-size="6.55" font-weight="bold" textLength="62" lengthAdjust="spacingAndGlyphs">Acetamiprid-dm (μg/g)</text><text x="70.2" y="172.9" font-size="6.9" font-style="italic" textLength="15.4" lengthAdjust="spacingAndGlyphs">Ace-C</text><text x="114.6" y="172.9" font-size="6.9" font-style="italic" textLength="30.6" lengthAdjust="spacingAndGlyphs">Ace@MSNs</text>
<text x="184" y="154" font-size="12.0" font-weight="bold">B2</text><text x="205.9" y="251.3" font-size="6.0" font-weight="bold" text-anchor="end">0.0</text><text x="205.9" y="232.3" font-size="6.0" font-weight="bold" text-anchor="end">0.2</text><text x="205.9" y="213.3" font-size="6.0" font-weight="bold" text-anchor="end">0.4</text><text x="205.9" y="194.3" font-size="6.0" font-weight="bold" text-anchor="end">0.6</text><text x="205.9" y="175.3" font-size="6.0" font-weight="bold" text-anchor="end">0.8</text><text x="216.4" y="257" font-size="5.8" font-weight="bold" text-anchor="middle">2h</text><text x="228.95" y="257" font-size="5.8" font-weight="bold" text-anchor="middle">1d</text><text x="241.5" y="257" font-size="5.8" font-weight="bold" text-anchor="middle">3d</text><text x="254.05" y="257" font-size="5.8" font-weight="bold" text-anchor="middle">5d</text><text x="266.6" y="257" font-size="5.8" font-weight="bold" text-anchor="middle">7d</text><text x="279.15" y="257" font-size="5.8" font-weight="bold" text-anchor="middle">10d</text><text x="291.7" y="257" font-size="5.8" font-weight="bold" text-anchor="middle">14d</text><text x="304.25" y="257" font-size="5.8" font-weight="bold" text-anchor="middle">21d</text><text x="316.8" y="257" font-size="5.8" font-weight="bold" text-anchor="middle">30d</text><text x="266.7" y="267.2" font-size="6.4" font-weight="bold" text-anchor="middle">Time</text><text transform="translate(194 210.7) rotate(-90)" x="-31" font-size="6.55" font-weight="bold" textLength="62" lengthAdjust="spacingAndGlyphs">Acetamiprid-dm (μg/g)</text><text x="249.6" y="172.9" font-size="6.9" textLength="16.0" lengthAdjust="spacingAndGlyphs">Ace-C</text><text x="294" y="172.9" font-size="6.9" textLength="31.0" lengthAdjust="spacingAndGlyphs">Ace@MSNs</text><text x="307.3" y="210.5" font-size="6.0" font-weight="bold" text-anchor="middle">*</text>
<text x="364.2" y="154" font-size="12.0" font-weight="bold">B3</text><text x="385.5" y="251.3" font-size="6.0" font-weight="bold" text-anchor="end">0.0</text><text x="385.5" y="232.3" font-size="6.0" font-weight="bold" text-anchor="end">0.5</text><text x="385.5" y="213.3" font-size="6.0" font-weight="bold" text-anchor="end">1.0</text><text x="385.5" y="194.3" font-size="6.0" font-weight="bold" text-anchor="end">1.5</text><text x="385.5" y="175.3" font-size="6.0" font-weight="bold" text-anchor="end">2.0</text><text x="396" y="257" font-size="5.8" font-weight="bold" text-anchor="middle">2h</text><text x="408.55" y="257" font-size="5.8" font-weight="bold" text-anchor="middle">1d</text><text x="421.1" y="257" font-size="5.8" font-weight="bold" text-anchor="middle">3d</text><text x="433.65" y="257" font-size="5.8" font-weight="bold" text-anchor="middle">5d</text><text x="446.2" y="257" font-size="5.8" font-weight="bold" text-anchor="middle">7d</text><text x="458.75" y="257" font-size="5.8" font-weight="bold" text-anchor="middle">10d</text><text x="471.3" y="257" font-size="5.8" font-weight="bold" text-anchor="middle">14d</text><text x="483.85" y="257" font-size="5.8" font-weight="bold" text-anchor="middle">21d</text><text x="496.4" y="257" font-size="5.8" font-weight="bold" text-anchor="middle">30d</text><text x="446.3" y="267.2" font-size="6.4" font-weight="bold" text-anchor="middle">Time</text><text transform="translate(373.6 210.7) rotate(-90)" x="-31" font-size="6.55" font-weight="bold" textLength="62" lengthAdjust="spacingAndGlyphs">Acetamiprid-dm (μg/g)</text><text x="429.2" y="172.9" font-size="6.9" textLength="16.0" lengthAdjust="spacingAndGlyphs">Ace-C</text><text x="473.6" y="172.9" font-size="6.9" textLength="31.0" lengthAdjust="spacingAndGlyphs">Ace@MSNs</text><text x="473.6" y="212.2" font-size="6.0" font-weight="bold" text-anchor="middle">**</text><text x="486.5" y="212.7" font-size="6.0" font-weight="bold" text-anchor="middle">***</text>
<text x="543.6" y="154" font-size="12.0" font-weight="bold">B4</text><text x="565.1" y="251.3" font-size="6.0" font-weight="bold" text-anchor="end">0.0</text><text x="565.1" y="232.3" font-size="6.0" font-weight="bold" text-anchor="end">0.5</text><text x="565.1" y="213.3" font-size="6.0" font-weight="bold" text-anchor="end">1.0</text><text x="565.1" y="194.3" font-size="6.0" font-weight="bold" text-anchor="end">1.5</text><text x="565.1" y="175.3" font-size="6.0" font-weight="bold" text-anchor="end">2.0</text><text x="575.6" y="257" font-size="5.8" font-weight="bold" text-anchor="middle">2h</text><text x="588.15" y="257" font-size="5.8" font-weight="bold" text-anchor="middle">1d</text><text x="600.7" y="257" font-size="5.8" font-weight="bold" text-anchor="middle">3d</text><text x="613.25" y="257" font-size="5.8" font-weight="bold" text-anchor="middle">5d</text><text x="625.8" y="257" font-size="5.8" font-weight="bold" text-anchor="middle">7d</text><text x="638.35" y="257" font-size="5.8" font-weight="bold" text-anchor="middle">10d</text><text x="650.9" y="257" font-size="5.8" font-weight="bold" text-anchor="middle">14d</text><text x="663.45" y="257" font-size="5.8" font-weight="bold" text-anchor="middle">21d</text><text x="676" y="257" font-size="5.8" font-weight="bold" text-anchor="middle">30d</text><text x="625.9" y="267.2" font-size="6.4" font-weight="bold" text-anchor="middle">Time</text><text transform="translate(553.2 210.7) rotate(-90)" x="-31" font-size="6.55" font-weight="bold" textLength="62" lengthAdjust="spacingAndGlyphs">Acetamiprid-dm (μg/g)</text><text x="608.8" y="172.9" font-size="6.9" font-style="italic" textLength="15.4" lengthAdjust="spacingAndGlyphs">Ace-C</text><text x="653.2" y="172.9" font-size="6.9" font-style="italic" textLength="30.6" lengthAdjust="spacingAndGlyphs">Ace@MSNs</text><text x="653.8" y="197.5" font-size="6.0" font-weight="bold" text-anchor="middle">***</text><text x="666.9" y="202" font-size="6.0" font-weight="bold" text-anchor="middle">***</text></g></svg>
</body></html>
